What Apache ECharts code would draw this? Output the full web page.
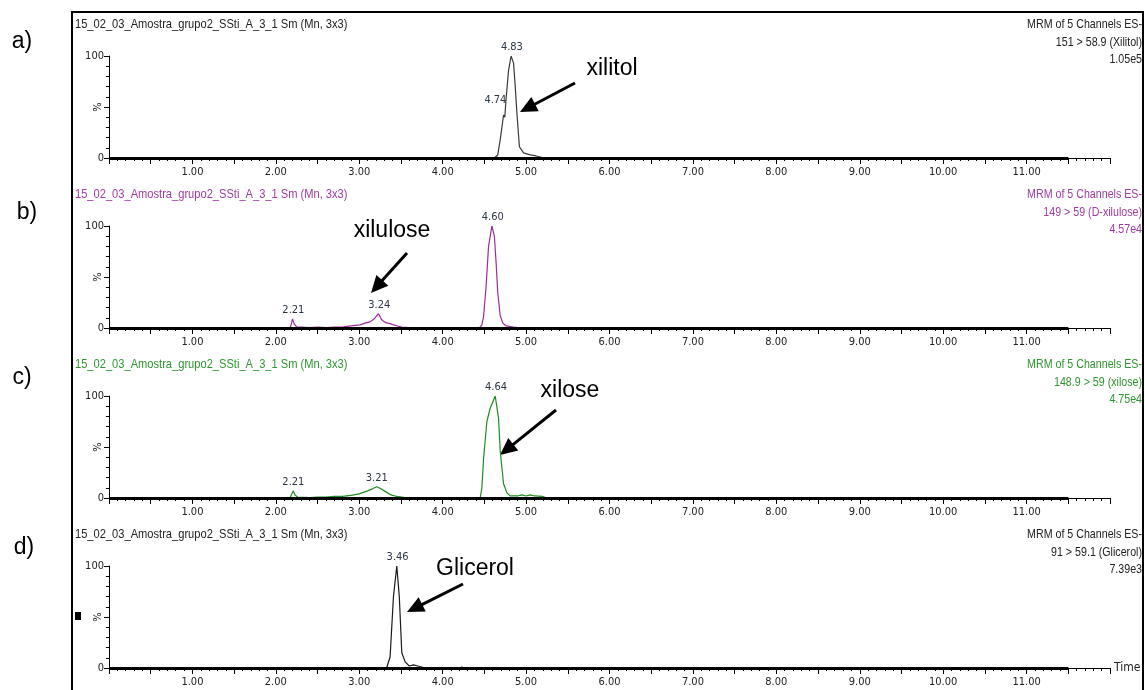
<!DOCTYPE html>
<html><head><meta charset="utf-8">
<script src="https://cdn.jsdelivr.net/npm/echarts@6/dist/echarts.min.js"></script>
<style>html,body{margin:0;padding:0;background:#fff}#c{width:1145px;height:690px}</style>
</head><body><div id="c"></div>
<script>
// ---- data ----
const tickLabels = ['1.00','2.00','3.00','4.00','5.00','6.00','7.00','8.00','9.00','10.00','11.00'];
const panelLetters = ['a)','b)','c)','d)'];
const sampleTitle = '15_02_03_Amostra_grupo2_SSti_A_3_1 Sm (Mn, 3x3)';
const channelLine1 = 'MRM of 5 Channels ES-';
const channelLine2 = ['151 > 58.9 (Xilitol)','149 > 59 (D-xilulose)','148.9 > 59 (xilose)','91 > 59.1 (Glicerol)'];
const intensities = ['1.05e5','4.57e4','4.75e4','7.39e3'];
const compoundNames = ['xilitol','xilulose','xilose','Glicerol'];

const xilitolTrace = [[0,0],[1,0],[2,0],[3,0],[4,0],[4.5,0],[4.62,0],[4.66,3],[4.69,18],[4.72,36],[4.73,42],[4.745,40],[4.76,58],[4.79,86],[4.82,100],[4.85,93],[4.87,70],[4.89,44],[4.92,11],[4.97,5],[5.05,3],[5.12,2],[5.17,1],[5.22,0],[6,0],[7,0],[8,0],[9,0],[10,0],[11,0],[11.5,0]];
const xiluloseTrace = [[0,0],[1,0],[2,0],[2.17,0],[2.19,5],[2.2,9],[2.22,4],[2.25,1],[2.3,1],[2.4,0.5],[2.5,1],[2.6,0.5],[2.7,1],[2.8,1],[2.85,1.5],[2.95,2.5],[3.01,3],[3.08,5],[3.13,6],[3.18,9],[3.23,14],[3.27,8],[3.3,6],[3.33,5],[3.38,4],[3.41,3],[3.46,2],[3.51,1],[3.6,0.5],[3.8,0],[4.2,0],[4.44,0],[4.47,3],[4.49,11],[4.52,40],[4.55,80],[4.59,100],[4.62,90],[4.64,65],[4.66,35],[4.69,12],[4.72,5],[4.76,2],[4.85,1],[4.9,0.5],[5,0],[5.1,0.5],[5.2,0],[5.6,0.5],[5.7,0],[6,0],[7,0],[8,0],[9,0],[10,0],[11,0],[11.5,0]];
const xiloseTrace = [[0,0],[1,0],[2,0],[2.17,0],[2.19,4],[2.21,7],[2.23,3],[2.26,1],[2.4,0.5],[2.5,1],[2.6,1],[2.7,1.5],[2.8,1.5],[2.9,2.5],[3,4],[3.1,7],[3.16,9],[3.21,11],[3.26,9],[3.32,6],[3.38,3],[3.45,1.5],[3.55,0.5],[3.7,0],[4.3,0],[4.45,0],[4.47,10],[4.49,38],[4.53,75],[4.57,88],[4.59,89],[4.63,100],[4.67,78],[4.69,46],[4.73,14],[4.77,5],[4.81,2],[4.9,2],[4.95,3],[5,2],[5.05,3],[5.1,2],[5.2,1.5],[5.25,0],[6,0],[7,0],[8,0],[9,0],[10,0],[11,0],[11.5,0]];
const glicerolTrace = [[0,0],[1,0],[2,0],[3,0],[3.3,0],[3.33,0.5],[3.37,11],[3.41,70],[3.45,100],[3.48,70],[3.51,15],[3.55,6],[3.6,2],[3.65,3],[3.7,2],[3.75,1],[3.8,0],[4.2,0],[4.23,1],[4.26,0],[4.46,0],[4.48,1],[4.5,0],[5,0],[6,0],[7,0],[8,0],[9,0],[10,0],[11,0],[11.5,0]];

const peaksA = [[4.83,100],[4.74,42]];
const peaksB = [[2.21,9],[3.24,14],[4.60,100]];
const peaksC = [[2.21,7],[3.21,11],[4.64,100]];
const peaksD = [[3.46,100]];

const traces = [xilitolTrace, xiluloseTrace, xiloseTrace, glicerolTrace];
const peaks = [peaksA, peaksB, peaksC, peaksD];

// ---- styling / layout ----
const traceColors = ['#3a3a3a','#9c2b9c','#1e8c1e','#1a1a1a'];
const headerColors = ['#222','#a03ca0','#2f962f','#222'];
const narrow = "'DejaVu Sans Condensed',sans-serif";
const sans = "'Liberation Sans',Arial,sans-serif";
const tops = [56,226,396,566];
const H = 102;

const grids=[], xAxes=[], yAxes=[], series=[];
for (let i=0;i<4;i++){
  grids.push({left:109,right:35,top:tops[i],height:H});
  xAxes.push({
    type:'value', gridIndex:i, min:0, max:12, interval:0.5,
    axisLine:{show:true,onZero:false,lineStyle:{color:'#000',width:1}},
    axisTick:{show:true,length:6,lineStyle:{color:'#000'}},
    minorTick:{show:true,splitNumber:5,length:3,lineStyle:{color:'#000'}},
    splitLine:{show:false},
    axisLabel:{color:'#222',fontFamily:narrow,fontSize:11,margin:9,
      formatter:v=>{const k=Math.round(v); return (Math.abs(v-k)<1e-6 && k>=1 && k<=tickLabels.length)?tickLabels[k-1]:'';}},
    name: i===3?'Time':'', nameLocation:'end', nameGap:4,
    nameTextStyle:{color:'#222',fontFamily:narrow,fontSize:12}
  });
  yAxes.push({
    type:'value', gridIndex:i, min:0, max:100, interval:50,
    axisLine:{show:true,lineStyle:{color:'#000',width:1}},
    axisTick:{show:true,length:5,lineStyle:{color:'#000'}},
    minorTick:{show:true,splitNumber:5,length:3,lineStyle:{color:'#000'}},
    splitLine:{show:false},
    axisLabel:{color:'#222',fontFamily:narrow,fontSize:11,margin:5,
      formatter:v=>(v===0||v===100)?String(v):''}
  });
  series.push({
    type:'line', xAxisIndex:i, yAxisIndex:i, data:traces[i], showSymbol:false, symbol:'none',
    lineStyle:{color:traceColors[i],width:1.2}, z:3, silent:true, animation:false,
    markLine:{silent:true,symbol:'none',label:{show:false},animation:false,
      lineStyle:{color:'#000',width:3,type:'solid'},
      data:[[{coord:[0,0]},{coord:[11.5,0]}]]},
    markPoint:{symbol:'circle',symbolSize:1,itemStyle:{color:'rgba(0,0,0,0)'},animation:false,
      data:peaks[i].map((p,j)=>({coord:[p[0],p[1]],value:p[0].toFixed(2),
        label:(i===0&&j===1)?{offset:[-9,-6]}:{}})),
      label:{show:true,position:'top',distance:3,color:'#2b3545',fontFamily:narrow,fontSize:11,formatter:'{c}'}}
  });
}

// annotations
function arrow(x1,y1,x2,y2){
  const dx=x2-x1, dy=y2-y1, L=Math.hypot(dx,dy), ux=dx/L, uy=dy/L;
  const hl=17, hw=8;
  const bx=x2-ux*hl, by=y2-uy*hl;
  return [
    {type:'line',shape:{x1:x1,y1:y1,x2:bx+ux*2,y2:by+uy*2},style:{stroke:'#000',lineWidth:3}},
    {type:'polygon',shape:{points:[[x2,y2],[bx-uy*hw,by+ux*hw],[bx+uy*hw,by-ux*hw]]},style:{fill:'#000'}}
  ];
}
const graphic=[
  {type:'rect',shape:{x:72,y:12,width:1071,height:700},style:{fill:'none',stroke:'#000',lineWidth:2}},
  {type:'rect',shape:{x:75,y:612,width:6,height:8},style:{fill:'#000'}}
];
const letterPos=[[22,42],[27,213],[22,378],[24,548]];
for (let i=0;i<4;i++){
  const off=i*170;
  graphic.push({type:'text',x:75,y:24+off,scaleX:0.855,
    style:{x:0,y:0,text:sampleTitle,fill:headerColors[i],font:"13px "+sans,verticalAlign:'middle'}});
  graphic.push({type:'text',x:1142,y:16+off,scaleX:0.82,
    style:{x:0,y:0,text:channelLine1+'\n'+channelLine2[i]+'\n'+intensities[i],
    fill:headerColors[i],font:"13px "+sans,align:'right',lineHeight:17.5}});
  graphic.push({type:'text',x:98,y:tops[i]+H/2,rotation:Math.PI/2,
    style:{x:0,y:0,text:'%',fill:'#222',font:"11px "+narrow,align:'center',verticalAlign:'middle'}});
  graphic.push({type:'text',style:{x:letterPos[i][0],y:letterPos[i][1],text:panelLetters[i],fill:'#000',
    font:"23px "+sans,align:'center',verticalAlign:'middle'}});
}
const labelPos=[[612,69],[392,231],[570,391],[475,569]];
const arrows=[[575,83,520,112],[407,253,371,293],[556,410,500,455],[463,584,407,612]];
for (let i=0;i<4;i++){
  graphic.push({type:'text',style:{x:labelPos[i][0],y:labelPos[i][1],text:compoundNames[i],fill:'#000',
    font:"23px "+sans,align:'center',verticalAlign:'middle'}});
  graphic.push(...arrow(...arrows[i]));
}

const chart=echarts.init(document.getElementById('c'),null,{renderer:'canvas'});
chart.setOption({animation:false,grid:grids,xAxis:xAxes,yAxis:yAxes,series:series,graphic:graphic});
</script></body></html>
